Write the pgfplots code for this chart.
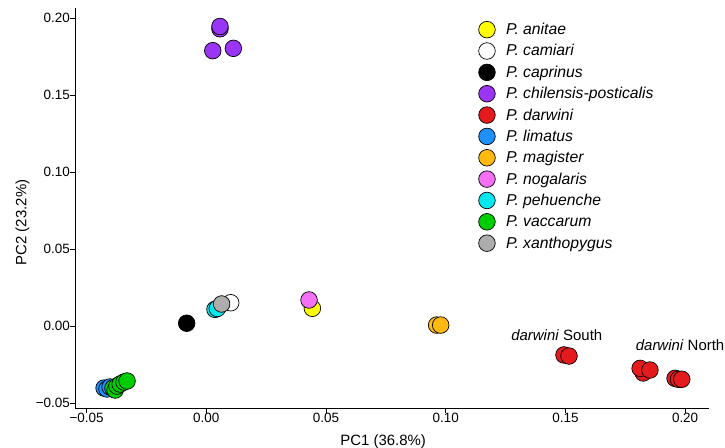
\documentclass[border=0pt]{standalone}
\usepackage{pgfplots}
\pgfplotsset{compat=1.18}
\usepackage{fontspec}
\setmainfont{Liberation Sans}

\definecolor{cAnitae}{HTML}{FFFF00}
\definecolor{cCamiari}{HTML}{FFFFFF}
\definecolor{cCaprinus}{HTML}{000000}
\definecolor{cChilensis}{HTML}{9A35F5}
\definecolor{cDarwini}{HTML}{E41A1C}
\definecolor{cLimatus}{HTML}{1E90FF}
\definecolor{cMagister}{HTML}{FFB90F}
\definecolor{cNogalaris}{HTML}{F570F5}
\definecolor{cPehuenche}{HTML}{00E8F0}
\definecolor{cVaccarum}{HTML}{00CD00}
\definecolor{cXantho}{HTML}{ADADAD}

\pgfplotsset{pt/.style={only marks, mark=*, mark size=8.3bp,
  mark options={draw=black, line width=0.7bp, fill=#1}}}

\begin{document}
\begin{tikzpicture}
\useasboundingbox (-75bp,-40bp) rectangle (650bp,408bp);
\begin{axis}[
  at={(0,0)}, anchor=south west,
  scale only axis, width=634bp, height=400bp,
  xmin=-0.05485, xmax=0.20998, ymin=-0.05325, ymax=0.2065,
  axis x line=bottom, axis y line=left,
  axis line style={-, line width=0.8bp, black},
  tick align=outside, major tick length=5bp,
  tick style={black, line width=0.7bp},
  xtick={-0.05,0,0.05,0.10,0.15,0.20},
  xticklabels={−0.05,0.00,0.05,0.10,0.15,0.20},
  ytick={-0.05,0,0.05,0.10,0.15,0.20},
  yticklabels={−0.05,0.00,0.05,0.10,0.15,0.20},
  ticklabel style={font=\fontsize{13.5}{16}\selectfont, inner sep=0pt},
  xticklabel style={anchor=north},
  yticklabel style={anchor=east},
  xlabel={PC1 (36.8\%)}, ylabel={PC2 (23.2\%)},
  label style={font=\fontsize{15}{18}\selectfont, inner sep=0pt},
  xlabel style={at={(axis description cs:0.486,-0.0925)}, anchor=base},
  ylabel style={at={(axis description cs:-0.0765,0.4638)}, anchor=base},
  clip=false,
  legend cell align=left,
  legend image code/.code={\draw[#1] plot coordinates {(0bp,0bp)};},
  legend style={draw=none, fill=none, at={(axis description cs:0.6367,0.9666)},
    anchor=north west, inner sep=0pt, outer sep=0pt,
    row sep=4.75bp, column sep=10.75bp,
    nodes={inner sep=0pt},
    font=\fontsize{15.8}{18}\selectfont\itshape},
]
\addplot[pt=cAnitae] coordinates {(0.0443,0.0115)};
\addlegendentry{P. anitae}
\addplot[pt=cCamiari] coordinates {(0.0102,0.0151)};
\addlegendentry{P. camiari}
\addplot[pt=cCaprinus] coordinates {(-0.0082,0.0018)};
\addlegendentry{P. caprinus}
\addplot[pt=cChilensis] coordinates {(0.0057,0.1930) (0.0057,0.1945) (0.0027,0.1788) (0.0113,0.1803)};
\addlegendentry{P. chilensis-posticalis}
\addplot[pt=cDarwini] coordinates {(0.1494,-0.0188) (0.1515,-0.0195) (0.1825,-0.0305) (0.1812,-0.0275) (0.1853,-0.0286) (0.1958,-0.0340) (0.1972,-0.0346) (0.1986,-0.0346)};
\addlegendentry{P. darwini}
\addplot[pt=cLimatus] coordinates {(-0.0427,-0.0403) (-0.0415,-0.0409) (-0.0402,-0.0396)};
\addlegendentry{P. limatus}
\addplot[pt=cMagister] coordinates {(0.0962,0.0006) (0.0979,0.0006)};
\addlegendentry{P. magister}
\addplot[pt=cNogalaris] coordinates {(0.0429,0.0169)};
\addlegendentry{P. nogalaris}
\addplot[pt=cPehuenche] coordinates {(0.0036,0.0108) (0.0046,0.0114)};
\addlegendentry{P. pehuenche}
\addplot[pt=cVaccarum] coordinates {(-0.0390,-0.0403) (-0.0381,-0.0416) (-0.0373,-0.0390) (-0.0360,-0.0377) (-0.0344,-0.0364) (-0.0331,-0.0357)};
\addlegendentry{P. vaccarum}
\addplot[pt=cXantho] coordinates {(0.0064,0.0143)};
\addlegendentry{P. xanthopygus}
\node[font=\fontsize{15}{18}\selectfont, anchor=base, inner sep=0pt] at (axis cs:0.1464,-0.0091) {\textit{darwini} South};
\node[font=\fontsize{15}{18}\selectfont, anchor=base, inner sep=0pt] at (axis cs:0.1979,-0.0156) {\textit{darwini} North};
\end{axis}
\end{tikzpicture}
\end{document}
